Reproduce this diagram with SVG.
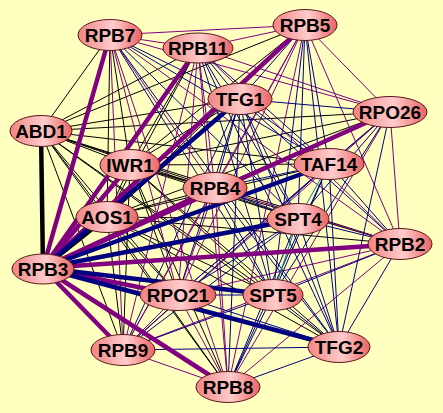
<svg xmlns="http://www.w3.org/2000/svg" width="443" height="413" viewBox="0 0 443 413">
<style>
line{fill:none;stroke-linecap:round}
.k{stroke:#000000}
.p{stroke:#800080}
.n{stroke:#000080}
.t{stroke:#008080}
.thin{stroke-width:1}
.thick{stroke-width:4.5}
.node ellipse{fill:url(#ng);stroke:#5a1a1a;stroke-width:1}
.node text{font-family:"Liberation Sans",Arial,sans-serif;font-weight:bold;font-size:19px;fill:#000;text-anchor:middle}
</style>
<defs>
<linearGradient id="ng" x1="0" y1="0" x2="1" y2="0">
<stop offset="0" stop-color="#f08484"/>
<stop offset="0.55" stop-color="#ffcccc"/>
<stop offset="1" stop-color="#ec6262"/>
</linearGradient>
</defs>
<rect x="0" y="0" width="443" height="413" fill="#ffffc0"/>
<g id="connectors">
<g class="k thin">
<line x1="41" y1="131" x2="110" y2="35"/>
<line x1="41" y1="131" x2="198" y2="48"/>
<line x1="41" y1="131" x2="305" y2="25"/>
<line x1="41" y1="131" x2="240" y2="99"/>
<line x1="41" y1="131" x2="390" y2="112"/>
<line x1="41" y1="131" x2="130" y2="165"/>
<line x1="41" y1="131" x2="329" y2="164"/>
<line x1="41" y1="131" x2="215" y2="188"/>
<line x1="41" y1="131" x2="107" y2="217"/>
<line x1="41" y1="131" x2="298" y2="219"/>
<line x1="41" y1="131" x2="400" y2="244"/>
<line x1="41" y1="131" x2="178" y2="295"/>
<line x1="41" y1="131" x2="273" y2="295"/>
<line x1="41" y1="131" x2="339" y2="347"/>
<line x1="41" y1="131" x2="123" y2="350"/>
<line x1="41" y1="131" x2="228" y2="387"/>
<line x1="130" y1="165" x2="110" y2="35"/>
<line x1="130" y1="165" x2="198" y2="48"/>
<line x1="130" y1="165" x2="305" y2="25"/>
<line x1="130" y1="165" x2="240" y2="99"/>
<line x1="130" y1="165" x2="390" y2="112"/>
<line x1="130" y1="165" x2="329" y2="164"/>
<line x1="130" y1="165" x2="215" y2="188"/>
<line x1="130" y1="165" x2="107" y2="217"/>
<line x1="130" y1="165" x2="298" y2="219"/>
<line x1="130" y1="165" x2="400" y2="244"/>
<line x1="130" y1="165" x2="178" y2="295"/>
<line x1="130" y1="165" x2="273" y2="295"/>
<line x1="130" y1="165" x2="339" y2="347"/>
<line x1="130" y1="165" x2="123" y2="350"/>
<line x1="130" y1="165" x2="228" y2="387"/>
<line x1="107" y1="217" x2="110" y2="35"/>
<line x1="107" y1="217" x2="198" y2="48"/>
<line x1="107" y1="217" x2="305" y2="25"/>
<line x1="107" y1="217" x2="240" y2="99"/>
<line x1="107" y1="217" x2="390" y2="112"/>
<line x1="107" y1="217" x2="329" y2="164"/>
<line x1="107" y1="217" x2="215" y2="188"/>
<line x1="107" y1="217" x2="298" y2="219"/>
<line x1="107" y1="217" x2="400" y2="244"/>
<line x1="107" y1="217" x2="178" y2="295"/>
<line x1="107" y1="217" x2="273" y2="295"/>
<line x1="107" y1="217" x2="339" y2="347"/>
<line x1="107" y1="217" x2="123" y2="350"/>
<line x1="107" y1="217" x2="228" y2="387"/>
</g>
<g class="p thin">
<line x1="110" y1="35" x2="198" y2="48"/>
<line x1="110" y1="35" x2="305" y2="25"/>
<line x1="110" y1="35" x2="390" y2="112"/>
<line x1="110" y1="35" x2="215" y2="188"/>
<line x1="110" y1="35" x2="400" y2="244"/>
<line x1="110" y1="35" x2="178" y2="295"/>
<line x1="110" y1="35" x2="123" y2="350"/>
<line x1="110" y1="35" x2="228" y2="387"/>
<line x1="198" y1="48" x2="305" y2="25"/>
<line x1="198" y1="48" x2="390" y2="112"/>
<line x1="198" y1="48" x2="215" y2="188"/>
<line x1="198" y1="48" x2="400" y2="244"/>
<line x1="198" y1="48" x2="178" y2="295"/>
<line x1="198" y1="48" x2="123" y2="350"/>
<line x1="198" y1="48" x2="228" y2="387"/>
<line x1="305" y1="25" x2="390" y2="112"/>
<line x1="305" y1="25" x2="215" y2="188"/>
<line x1="305" y1="25" x2="400" y2="244"/>
<line x1="305" y1="25" x2="178" y2="295"/>
<line x1="305" y1="25" x2="123" y2="350"/>
<line x1="305" y1="25" x2="228" y2="387"/>
<line x1="390" y1="112" x2="215" y2="188"/>
<line x1="390" y1="112" x2="400" y2="244"/>
<line x1="390" y1="112" x2="178" y2="295"/>
<line x1="390" y1="112" x2="123" y2="350"/>
<line x1="390" y1="112" x2="228" y2="387"/>
<line x1="215" y1="188" x2="400" y2="244"/>
<line x1="215" y1="188" x2="178" y2="295"/>
<line x1="215" y1="188" x2="123" y2="350"/>
<line x1="215" y1="188" x2="228" y2="387"/>
<line x1="400" y1="244" x2="178" y2="295"/>
<line x1="400" y1="244" x2="123" y2="350"/>
<line x1="400" y1="244" x2="228" y2="387"/>
<line x1="178" y1="295" x2="123" y2="350"/>
<line x1="178" y1="295" x2="228" y2="387"/>
<line x1="123" y1="350" x2="228" y2="387"/>
</g>
<g class="n thin">
<line x1="110" y1="35" x2="240" y2="99"/>
<line x1="110" y1="35" x2="329" y2="164"/>
<line x1="110" y1="35" x2="298" y2="219"/>
<line x1="110" y1="35" x2="273" y2="295"/>
<line x1="110" y1="35" x2="339" y2="347"/>
<line x1="198" y1="48" x2="240" y2="99"/>
<line x1="198" y1="48" x2="329" y2="164"/>
<line x1="198" y1="48" x2="298" y2="219"/>
<line x1="198" y1="48" x2="273" y2="295"/>
<line x1="198" y1="48" x2="339" y2="347"/>
<line x1="305" y1="25" x2="240" y2="99"/>
<line x1="305" y1="25" x2="329" y2="164"/>
<line x1="305" y1="25" x2="298" y2="219"/>
<line x1="305" y1="25" x2="273" y2="295"/>
<line x1="305" y1="25" x2="339" y2="347"/>
<line x1="390" y1="112" x2="240" y2="99"/>
<line x1="390" y1="112" x2="329" y2="164"/>
<line x1="390" y1="112" x2="298" y2="219"/>
<line x1="390" y1="112" x2="273" y2="295"/>
<line x1="390" y1="112" x2="339" y2="347"/>
<line x1="215" y1="188" x2="240" y2="99"/>
<line x1="215" y1="188" x2="329" y2="164"/>
<line x1="215" y1="188" x2="298" y2="219"/>
<line x1="215" y1="188" x2="273" y2="295"/>
<line x1="215" y1="188" x2="339" y2="347"/>
<line x1="400" y1="244" x2="240" y2="99"/>
<line x1="400" y1="244" x2="329" y2="164"/>
<line x1="400" y1="244" x2="298" y2="219"/>
<line x1="400" y1="244" x2="273" y2="295"/>
<line x1="400" y1="244" x2="339" y2="347"/>
<line x1="178" y1="295" x2="240" y2="99"/>
<line x1="178" y1="295" x2="329" y2="164"/>
<line x1="178" y1="295" x2="298" y2="219"/>
<line x1="178" y1="295" x2="273" y2="295"/>
<line x1="178" y1="295" x2="339" y2="347"/>
<line x1="123" y1="350" x2="240" y2="99"/>
<line x1="123" y1="350" x2="329" y2="164"/>
<line x1="123" y1="350" x2="298" y2="219"/>
<line x1="123" y1="350" x2="273" y2="295"/>
<line x1="123" y1="350" x2="339" y2="347"/>
<line x1="228" y1="387" x2="240" y2="99"/>
<line x1="228" y1="387" x2="329" y2="164"/>
<line x1="228" y1="387" x2="298" y2="219"/>
<line x1="228" y1="387" x2="273" y2="295"/>
<line x1="228" y1="387" x2="339" y2="347"/>
<line x1="240" y1="99" x2="329" y2="164"/>
<line x1="240" y1="99" x2="298" y2="219"/>
<line x1="240" y1="99" x2="273" y2="295"/>
<line x1="240" y1="99" x2="339" y2="347"/>
<line x1="329" y1="164" x2="273" y2="295"/>
<line x1="329" y1="164" x2="339" y2="347"/>
<line x1="298" y1="219" x2="339" y2="347"/>
<line x1="273" y1="295" x2="339" y2="347"/>
</g>
<g class="t thin">
<line x1="329" y1="164" x2="298" y2="219"/>
<line x1="298" y1="219" x2="273" y2="295"/>
</g>
<g class="thick">
<line class="k" x1="43" y1="268" x2="41" y2="131"/>
<line class="k" x1="43" y1="268" x2="107" y2="217"/>
<line class="p" x1="43" y1="268" x2="110" y2="35"/>
<line class="p" x1="43" y1="268" x2="198" y2="48"/>
<line class="p" x1="43" y1="268" x2="305" y2="25"/>
<line class="p" x1="43" y1="268" x2="390" y2="112"/>
<line class="p" x1="43" y1="268" x2="130" y2="165"/>
<line class="p" x1="43" y1="268" x2="215" y2="188"/>
<line class="p" x1="43" y1="268" x2="400" y2="244"/>
<line class="p" x1="43" y1="268" x2="178" y2="295"/>
<line class="p" x1="43" y1="268" x2="123" y2="350"/>
<line class="p" x1="43" y1="268" x2="228" y2="387"/>
<line class="n" x1="43" y1="268" x2="240" y2="99"/>
<line class="n" x1="43" y1="268" x2="329" y2="164"/>
<line class="n" x1="43" y1="268" x2="298" y2="219"/>
<line class="n" x1="43" y1="268" x2="273" y2="295"/>
<line class="n" x1="43" y1="268" x2="339" y2="347"/>
</g>
</g>
<g id="RPB7" class="node"><ellipse cx="110" cy="35" rx="32" ry="15.5"/><text x="110" y="42">RPB7</text></g>
<g id="RPB11" class="node"><ellipse cx="198" cy="48" rx="35" ry="15"/><text x="198" y="55">RPB11</text></g>
<g id="RPB5" class="node"><ellipse cx="305" cy="25" rx="32" ry="15.5"/><text x="305" y="32">RPB5</text></g>
<g id="TFG1" class="node"><ellipse cx="240" cy="99" rx="32" ry="15.5"/><text x="240" y="106">TFG1</text></g>
<g id="RPO26" class="node"><ellipse cx="390" cy="112" rx="37" ry="15.5"/><text x="390" y="119">RPO26</text></g>
<g id="ABD1" class="node"><ellipse cx="41" cy="131" rx="31" ry="15.5"/><text x="41" y="138">ABD1</text></g>
<g id="IWR1" class="node"><ellipse cx="130" cy="165" rx="30" ry="15.5"/><text x="130" y="172">IWR1</text></g>
<g id="TAF14" class="node"><ellipse cx="329" cy="164" rx="35" ry="15.5"/><text x="329" y="171">TAF14</text></g>
<g id="RPB4" class="node"><ellipse cx="215" cy="188" rx="32" ry="15.5"/><text x="215" y="195">RPB4</text></g>
<g id="AOS1" class="node"><ellipse cx="107" cy="217" rx="31" ry="15.5"/><text x="107" y="224">AOS1</text></g>
<g id="SPT4" class="node"><ellipse cx="298" cy="219" rx="31" ry="15.5"/><text x="298" y="226">SPT4</text></g>
<g id="RPB2" class="node"><ellipse cx="400" cy="244" rx="32" ry="15.5"/><text x="400" y="251">RPB2</text></g>
<g id="RPB3" class="node"><ellipse cx="43" cy="269" rx="31" ry="15"/><text x="43" y="276">RPB3</text></g>
<g id="RPO21" class="node"><ellipse cx="178" cy="295" rx="38" ry="15.5"/><text x="178" y="302">RPO21</text></g>
<g id="SPT5" class="node"><ellipse cx="273" cy="295" rx="30" ry="15.5"/><text x="273" y="302">SPT5</text></g>
<g id="TFG2" class="node"><ellipse cx="339" cy="347" rx="31" ry="15.5"/><text x="339" y="354">TFG2</text></g>
<g id="RPB9" class="node"><ellipse cx="123" cy="350" rx="32" ry="15.5"/><text x="123" y="357">RPB9</text></g>
<g id="RPB8" class="node"><ellipse cx="228" cy="387" rx="32" ry="15.5"/><text x="228" y="394">RPB8</text></g>
</svg>
